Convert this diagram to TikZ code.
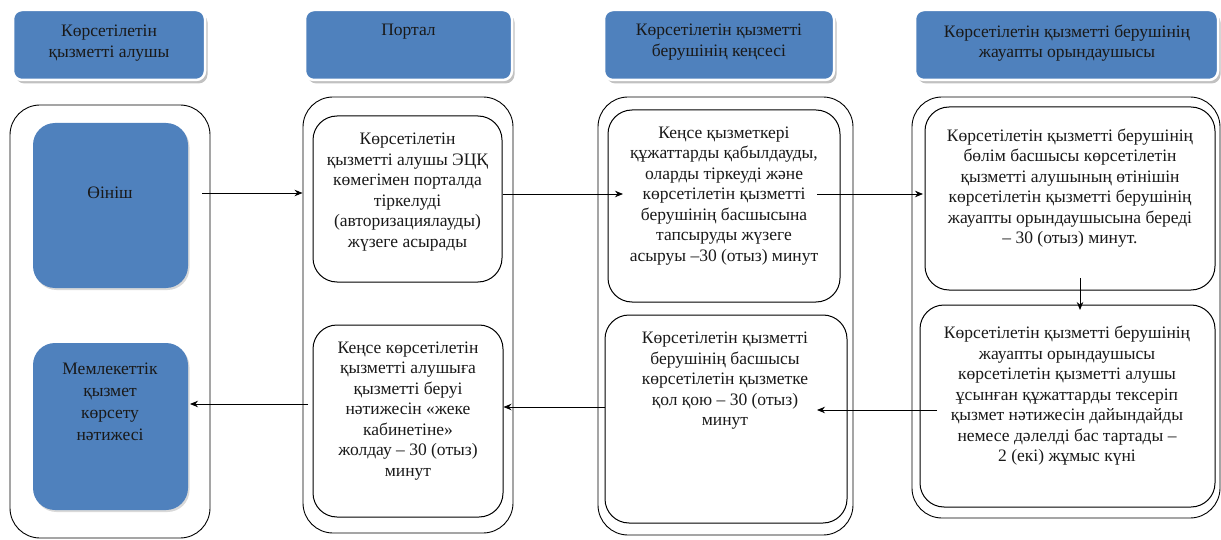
\documentclass[tikz,border=0pt]{standalone}
\usepackage{fontspec}
\setmainfont{Liberation Serif}
\newfontfamily\kzserif{Liberation Serif}
\usetikzlibrary{arrows.meta,shadows}
\definecolor{hdrblue}{HTML}{4F81BD}
\tikzset{
  lane/.style={draw=black, line width=0.9pt, rounded corners=30pt, inner sep=0pt},
  inbox/.style={draw=black, line width=1pt, rounded corners=24pt, inner sep=0pt},
  bluebox/.style={fill=hdrblue, draw=none, rounded corners=22pt, inner sep=0pt,
     drop shadow={shadow xshift=1.5pt, shadow yshift=-2pt, fill=black!25, opacity=0.6}},
  hdr/.style={fill=hdrblue, draw=white, line width=2.5pt, rounded corners=9pt, inner sep=0pt,
     drop shadow={shadow xshift=2.5pt, shadow yshift=-3.5pt, fill=black!35, opacity=0.7}},
  txt/.style={align=center, font=\kzserif\fontsize{17.5}{20.5}\selectfont, inner sep=0pt, text=black!90},
  arr/.style={line width=0.9pt, -{Stealth[length=8pt,width=6.5pt]}}
}
\begin{document}
\begin{tikzpicture}[x=1pt,y=-1pt]
\useasboundingbox (0,0) rectangle (1221,540);
% header boxes
\node[hdr, minimum width=192pt, minimum height=70pt] (h1) at (109,45) {};
\node[hdr, minimum width=207pt, minimum height=70pt] (h2) at (408.5,45) {};
\node[hdr, minimum width=230pt, minimum height=70pt] (h3) at (719,45) {};
\node[hdr, minimum width=303pt, minimum height=70pt] (h4) at (1066.5,45) {};
\node[txt] (h1t) at (109,43) {Көрсетілетін\\қызметті алушы};
\node[txt] (h2t) at (408.5,32) {Портал};
\node[txt] (h3t) at (719,42) {Көрсетілетін қызметті\\берушінің кеңсесі};
\node[txt] (h4t) at (1067,43) {Көрсетілетін қызметті берушінің\\жауапты орындаушысы};
% lanes
\node[lane, minimum width=200pt, minimum height=433pt] (l1) at (110,321.5) {};
\node[lane, minimum width=210pt, minimum height=436pt] (l2) at (408,315) {};
\node[lane, minimum width=255pt, minimum height=438pt] (l3) at (725.5,316) {};
\node[lane, minimum width=308pt, minimum height=421pt] (l4) at (1066,307.5) {};
% lane 1 blue boxes
\node[bluebox, minimum width=155pt, minimum height=165pt] (b1) at (110.5,205.5) {};
\node[bluebox, minimum width=155pt, minimum height=167pt] (b2) at (110.5,426.5) {};
\node[txt] (b1t) at (110,193) {Өініш};
\node[txt] (b2t) at (110,402) {Мемлекеттік\\[1.5pt]қызмет\\[1.5pt]көрсету\\[1.5pt]нәтижесі};
% lane 2
\node[inbox, minimum width=189pt, minimum height=166pt] (p1) at (407.5,199) {};
\node[inbox, minimum width=190pt, minimum height=192pt] (p2) at (408,421) {};
\node[txt] (p1t) at (407.5,192) {Көрсетілетін\\қызметті алушы ЭЦҚ\\көмегімен порталда\\тіркелуді\\(авторизациялауды)\\жүзеге асырады};
\node[txt] (p2t) at (408,411) {Кеңсе көрсетілетін\\қызметті алушыға\\қызметті беруі\\нәтижесін «жеке\\кабинетіне»\\жолдау – 30 (отыз)\\минут};
% lane 3
\node[inbox, minimum width=232pt, minimum height=192pt] (k1) at (724,206) {};
\node[inbox, minimum width=242pt, minimum height=208pt] (k2) at (726,419) {};
\node[txt] (k1t) at (724,196) {Кеңсе қызметкері\\құжаттарды қабылдауды,\\оларды тіркеуді және\\көрсетілетін қызметті\\берушінің басшысына\\тапсыруды жүзеге\\асыруы –30 (отыз) минут};
\node[txt] (k2t) at (725,381) {Көрсетілетін қызметті\\берушінің басшысы\\көрсетілетін қызметке\\қол қою – 30 (отыз)\\минут};
% lane 4
\node[inbox, minimum width=290pt, minimum height=183pt] (j1) at (1070,198.5) {};
\node[inbox, minimum width=295pt, minimum height=202pt] (j2) at (1067.5,406) {};
\node[txt] (j1t) at (1070,188) {Көрсетілетін қызметті берушінің\\бөлім басшысы көрсетілетін\\қызметті алушының өтінішін\\көрсетілетін қызметті берушінің\\жауапты орындаушысына береді\\– 30 (отыз) минут.};
\node[txt] (j2t) at (1067,396) {Көрсетілетін қызметті берушінің\\жауапты орындаушысы\\көрсетілетін қызметті алушы\\ұсынған құжаттарды тексеріп\\қызмет нәтижесін дайындайды\\немесе дәлелді бас тартады –\\2 (екі) жұмыс күні};
% arrow end points
\coordinate (a1s) at (202,193);
\coordinate (a2e) at (623,194);
\coordinate (a3s) at (817,194);
\coordinate (a3e) at (923,194);
\coordinate (a4s) at (1080,278);
\coordinate (a4e) at (1080,310);
\coordinate (a5s) at (937,410);
\coordinate (a5e) at (817,410);
\coordinate (a6s) at (605,407);
\coordinate (a7s) at (308,404);
\coordinate (a7e) at (190,404);
% connectors
\draw[arr] (a1s) -- (l2.west |- a1s);
\draw[arr] (p1.east |- a2e) -- (a2e);
\draw[arr] (a3s) -- (a3e);
\draw[arr] (a4s) -- (a4e);
\draw[arr] (a5s) -- (a5e);
\draw[arr] (a6s) -- (p2.east |- a6s);
\draw[arr] (a7s) -- (a7e);
\end{tikzpicture}
\end{document}
